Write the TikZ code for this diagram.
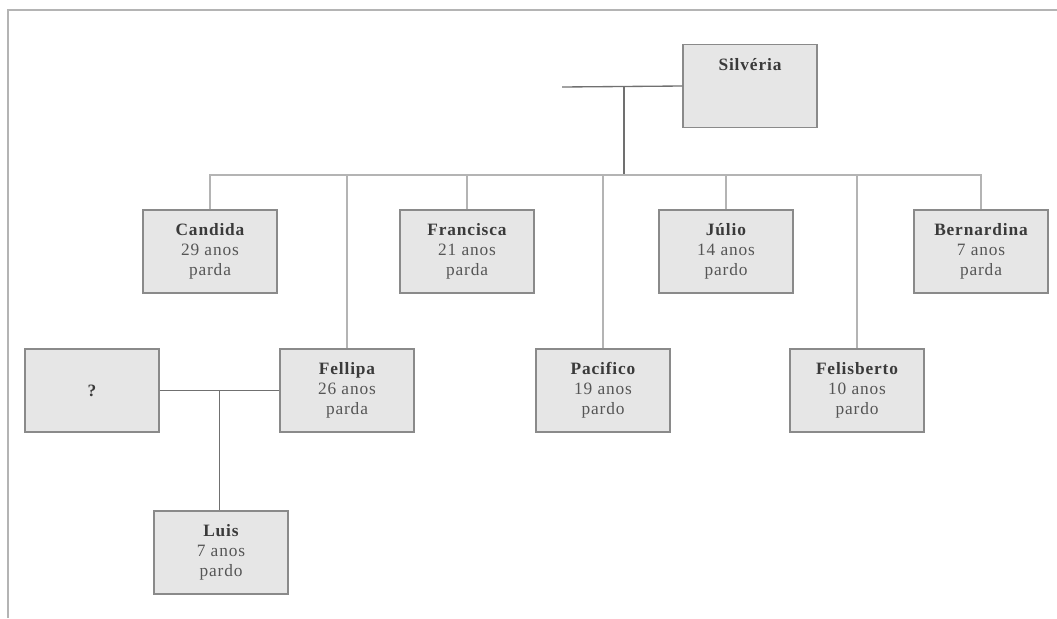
\documentclass[tikz,border=0pt]{standalone}
\usepackage{fontspec}
\setmainfont{Liberation Serif}
\usepackage{tikz}
\usetikzlibrary{calc}
\definecolor{boxfill}{HTML}{E6E6E6}
\definecolor{boxline}{HTML}{8A8A8A}
\definecolor{kinlight}{HTML}{B4B4B4}
\definecolor{kindark}{HTML}{707070}
\definecolor{namecol}{HTML}{3A3A3A}
\definecolor{infocol}{HTML}{555555}
\tikzset{
  personbox/.style={
    draw=boxline,
    fill=boxfill,
    line width=1.1pt,
    align=center,
    minimum width=100.5pt,
    minimum height=62.25pt,
    inner sep=2pt,
    text=infocol,
    font=\fontsize{13}{15}\selectfont\addfontfeatures{LetterSpace=5}
  },
  childline/.style={
    draw=kinlight,
    line width=0.8pt
  },
  coupleline/.style={
    draw=kindark,
    line width=1pt
  },
  frameline/.style={
    draw=kinlight,
    line width=1pt
  }
}
\newcommand{\pname}[1]{\textbf{\textcolor{namecol}{#1}}}

\begin{document}
\begin{tikzpicture}[x=0.75pt,y=-0.75pt]
  \useasboundingbox (0,0) rectangle (1057,618);
  \draw[frameline] (8,618) -- (8,10) -- (1057,10);

  \node[personbox] (silv) at (750,86) {\pname{Silvéria}\\[2pt]\mbox{}\\\mbox{}};

  \node[personbox] (cand) at (210,251.5) {\pname{Candida}\\29 anos\\parda};
  \node[personbox] (fran) at (467,251.5) {\pname{Francisca}\\21 anos\\parda};
  \node[personbox] (juli) at (726,251.5) {\pname{Júlio}\\14 anos\\pardo};
  \node[personbox] (bern) at (981,251.5) {\pname{Bernardina}\\7 anos\\parda};

  \node[personbox] (unkn) at (92,390.5) {\pname{?}};
  \node[personbox] (fell) at (347,390.5) {\pname{Fellipa}\\26 anos\\parda};
  \node[personbox] (paci) at (603,390.5) {\pname{Pacifico}\\19 anos\\pardo};
  \node[personbox] (feli) at (857,390.5) {\pname{Felisberto}\\10 anos\\pardo};

  \node[personbox] (luis) at (221,552.5) {\pname{Luis}\\7 anos\\pardo};

  \coordinate (sfree) at (562,87);
  \coordinate (sjoin) at (624,87);
  \coordinate (sbar) at (624,175);
  \draw[coupleline] (sfree) -- (silv.west);
  \draw[coupleline] (sjoin) -- (sbar);

  \foreach \kid in {cand,fran,juli,bern,fell,paci,feli}
    \draw[childline] (\kid.north) |- (sbar);

  \coordinate (fjoin) at ($(unkn.east)!0.5!(fell.west)$);
  \draw[coupleline] (unkn.east) -- (fell.west);
  \draw[coupleline] (fjoin) -- (fjoin |- luis.north);
\end{tikzpicture}
\end{document}
